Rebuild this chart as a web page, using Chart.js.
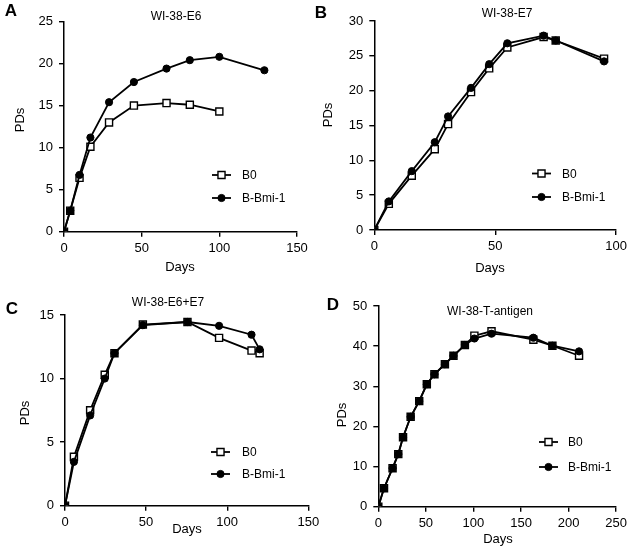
<!DOCTYPE html>
<html>
<head>
<meta charset="utf-8">
<script src="https://cdn.jsdelivr.net/npm/chart.js@4.4.0/dist/chart.umd.min.js"></script>
<style>
  body { margin: 0; background: #fff; }
  #wrap { position: relative; width: 631px; height: 547px; }
  #wrap canvas { position: absolute; left: 0; top: 0; }
</style>
</head>
<body>
<div id="wrap">
  <canvas id="chartA" width="631" height="547"></canvas>
  <canvas id="chartB" width="631" height="547"></canvas>
  <canvas id="chartC" width="631" height="547"></canvas>
  <canvas id="chartD" width="631" height="547"></canvas>
</div>
<script>
// series labels
const seriesNames = ["B0", "B-Bmi-1"];

// A: WI-38-E6
const daysA_B0 = [0, 4, 10, 17, 29, 45, 66, 81, 100];
const pdsA_B0 = [0, 2.5, 6.4, 10.1, 13.0, 15.0, 15.3, 15.1, 14.3];
const daysA_Bmi = [0, 4, 10, 17, 29, 45, 66, 81, 100, 129];
const pdsA_Bmi = [0, 2.5, 6.75, 11.2, 15.4, 17.8, 19.4, 20.4, 20.8, 19.2];

// B: WI-38-E7
const daysB = [0, 6, 15.5, 25, 30.5, 40, 47.5, 55, 70, 75, 95];
const pdsB_B0 = [0, 3.75, 7.8, 11.6, 15.2, 19.8, 23.2, 26.2, 27.7, 27.2, 24.6];
const pdsB_Bmi = [0, 4.1, 8.45, 12.6, 16.3, 20.4, 23.8, 26.8, 27.9, 27.2, 24.2];

// C: WI-38-E6+E7
const daysC = [0, 5.5, 15.5, 24.5, 30.5, 48, 75.5, 95, 115, 120];
const pdsC_B0 = [0, 3.85, 7.5, 10.3, 12.0, 14.25, 14.45, 13.2, 12.2, 12.0];
const pdsC_Bmi = [0, 3.45, 7.1, 10.0, 12.0, 14.2, 14.45, 14.15, 13.45, 12.3];

// D: WI-38-T-antigen
const daysD = [0, 6, 15, 21, 26, 34, 43, 51, 59, 70, 79, 91, 101, 119, 163, 183, 211];
const pdsD_B0 = [0, 4.6, 9.6, 13.1, 17.3, 22.4, 26.3, 30.5, 33.0, 35.5, 37.6, 40.3, 42.6, 43.7, 41.6, 40.1, 37.6];
const pdsD_Bmi = [0, 4.6, 9.6, 13.1, 17.3, 22.4, 26.3, 30.5, 33.0, 35.5, 37.6, 40.3, 41.9, 43.1, 42.1, 40.1, 38.7];

const W = 631, H = 547;
const FONT = '"Liberation Sans", Arial, sans-serif';
Chart.defaults.font.family = FONT;
Chart.defaults.font.size = 12;
Chart.defaults.color = "#000";

// draws letter, title, axis names and the small legend
const panelText = {
  id: "panelText",
  afterDraw(chart, args, o) {
    const ctx = chart.ctx;
    ctx.save();
    ctx.fillStyle = "#000";
    ctx.textAlign = "center";
    ctx.textBaseline = "middle";
    ctx.font = "bold 17px " + FONT;
    ctx.fillText(o.letter, o.letterAt[0], o.letterAt[1]);
    ctx.font = "12px " + FONT;
    ctx.fillText(o.title, o.titleAt[0], o.titleAt[1]);
    ctx.font = "13px " + FONT;
    ctx.fillText("Days", o.daysAt[0], o.daysAt[1]);
    ctx.save();
    ctx.translate(o.pdsAt[0], o.pdsAt[1]);
    ctx.rotate(-Math.PI / 2);
    ctx.fillText("PDs", 0, 0);
    ctx.restore();

    // legend
    ctx.font = "12px " + FONT;
    ctx.textAlign = "left";
    chart.data.datasets.forEach((ds, i) => {
      const y = o.legend.y[i];
      const x1 = o.legend.x, x2 = o.legend.x + 19, cx = (x1 + x2) / 2;
      ctx.strokeStyle = "#000";
      ctx.lineWidth = 1.8;
      ctx.beginPath();
      ctx.moveTo(x1, y);
      ctx.lineTo(x2, y);
      ctx.stroke();
      ctx.lineWidth = ds.pointBorderWidth;
      ctx.fillStyle = ds.pointBackgroundColor;
      ctx.beginPath();
      if (ds.pointStyle === "rect") {
        const s = ds.pointRadius * Math.SQRT1_2;
        ctx.rect(cx - s, y - s, 2 * s, 2 * s);
      } else {
        ctx.arc(cx, y, ds.pointRadius, 0, Math.PI * 2);
      }
      ctx.fill();
      ctx.stroke();
      ctx.fillStyle = "#000";
      ctx.fillText(ds.label, o.legend.textX, y + 1);
    });
    ctx.restore();
  }
};

function pts(xs, ys) {
  return xs.map((x, i) => ({ x: x, y: ys[i] }));
}

function makePanel(id, area, xMax, xStep, yMax, yStep, b0, bmi, text) {
  const yW = 40, xH = 30;
  new Chart(document.getElementById(id), {
    type: "scatter",
    data: {
      datasets: [
        {
          label: seriesNames[0],
          data: b0,
          showLine: true,
          borderColor: "#000",
          borderWidth: 1.8,
          pointStyle: "rect",
          pointRadius: 5,
          pointBorderWidth: 1.4,
          pointBackgroundColor: "#fff",
          pointBorderColor: "#000",
          tension: 0,
          order: 1
        },
        {
          label: seriesNames[1],
          data: bmi,
          showLine: true,
          borderColor: "#000",
          borderWidth: 1.8,
          pointStyle: "circle",
          pointRadius: 3.6,
          pointBorderWidth: 1,
          pointBackgroundColor: "#000",
          pointBorderColor: "#000",
          tension: 0,
          order: 0
        }
      ]
    },
    options: {
      responsive: false,
      animation: false,
      events: [],
      layout: {
        padding: {
          left: area.l - yW,
          right: W - area.r,
          top: area.t,
          bottom: H - area.b - xH
        }
      },
      plugins: {
        legend: { display: false },
        tooltip: { enabled: false },
        panelText: text
      },
      scales: {
        x: {
          type: "linear",
          min: 0,
          max: xMax,
          afterFit: (s) => { s.height = xH; },
          ticks: { stepSize: xStep, padding: 4, font: { size: 13 }, maxRotation: 0 },
          grid: { display: true, drawOnChartArea: false, tickLength: 5, color: "#000", lineWidth: 1.4 },
          border: { color: "#000", width: 1.5 }
        },
        y: {
          type: "linear",
          min: 0,
          max: yMax,
          afterFit: (s) => { s.width = yW; },
          ticks: { stepSize: yStep, padding: 6, font: { size: 13 } },
          grid: { display: true, drawOnChartArea: false, tickLength: 5, color: "#000", lineWidth: 1.4 },
          border: { color: "#000", width: 1.5 }
        }
      }
    },
    plugins: [panelText]
  });
}

makePanel("chartA", { l: 64, r: 297, t: 21.5, b: 231.7 }, 150, 50, 25, 5,
  pts(daysA_B0, pdsA_B0), pts(daysA_Bmi, pdsA_Bmi),
  { letter: "A", letterAt: [11, 11], title: "WI-38-E6", titleAt: [176, 17],
    daysAt: [180, 267], pdsAt: [20, 120],
    legend: { x: 212, textX: 242, y: [175, 198] } });

makePanel("chartB", { l: 374.3, r: 620.7, t: 21, b: 230 }, 100, 50, 30, 5,
  pts(daysB, pdsB_B0), pts(daysB, pdsB_Bmi),
  { letter: "B", letterAt: [321, 13], title: "WI-38-E7", titleAt: [507, 14],
    daysAt: [490, 268], pdsAt: [328, 115],
    legend: { x: 532, textX: 562, y: [173.5, 197] } });

makePanel("chartC", { l: 65, r: 308.3, t: 315, b: 505.7 }, 150, 50, 15, 5,
  pts(daysC, pdsC_B0), pts(daysC, pdsC_Bmi),
  { letter: "C", letterAt: [12, 309], title: "WI-38-E6+E7", titleAt: [168, 303],
    daysAt: [187, 529], pdsAt: [25, 413],
    legend: { x: 211, textX: 242, y: [452, 474] } });

makePanel("chartD", { l: 378.3, r: 620, t: 306, b: 506.7 }, 250, 50, 50, 10,
  pts(daysD, pdsD_B0), pts(daysD, pdsD_Bmi),
  { letter: "D", letterAt: [333, 305], title: "WI-38-T-antigen", titleAt: [490, 312],
    daysAt: [498, 539], pdsAt: [342, 415],
    legend: { x: 539, textX: 568, y: [442, 467] } });
</script>
</body>
</html>
